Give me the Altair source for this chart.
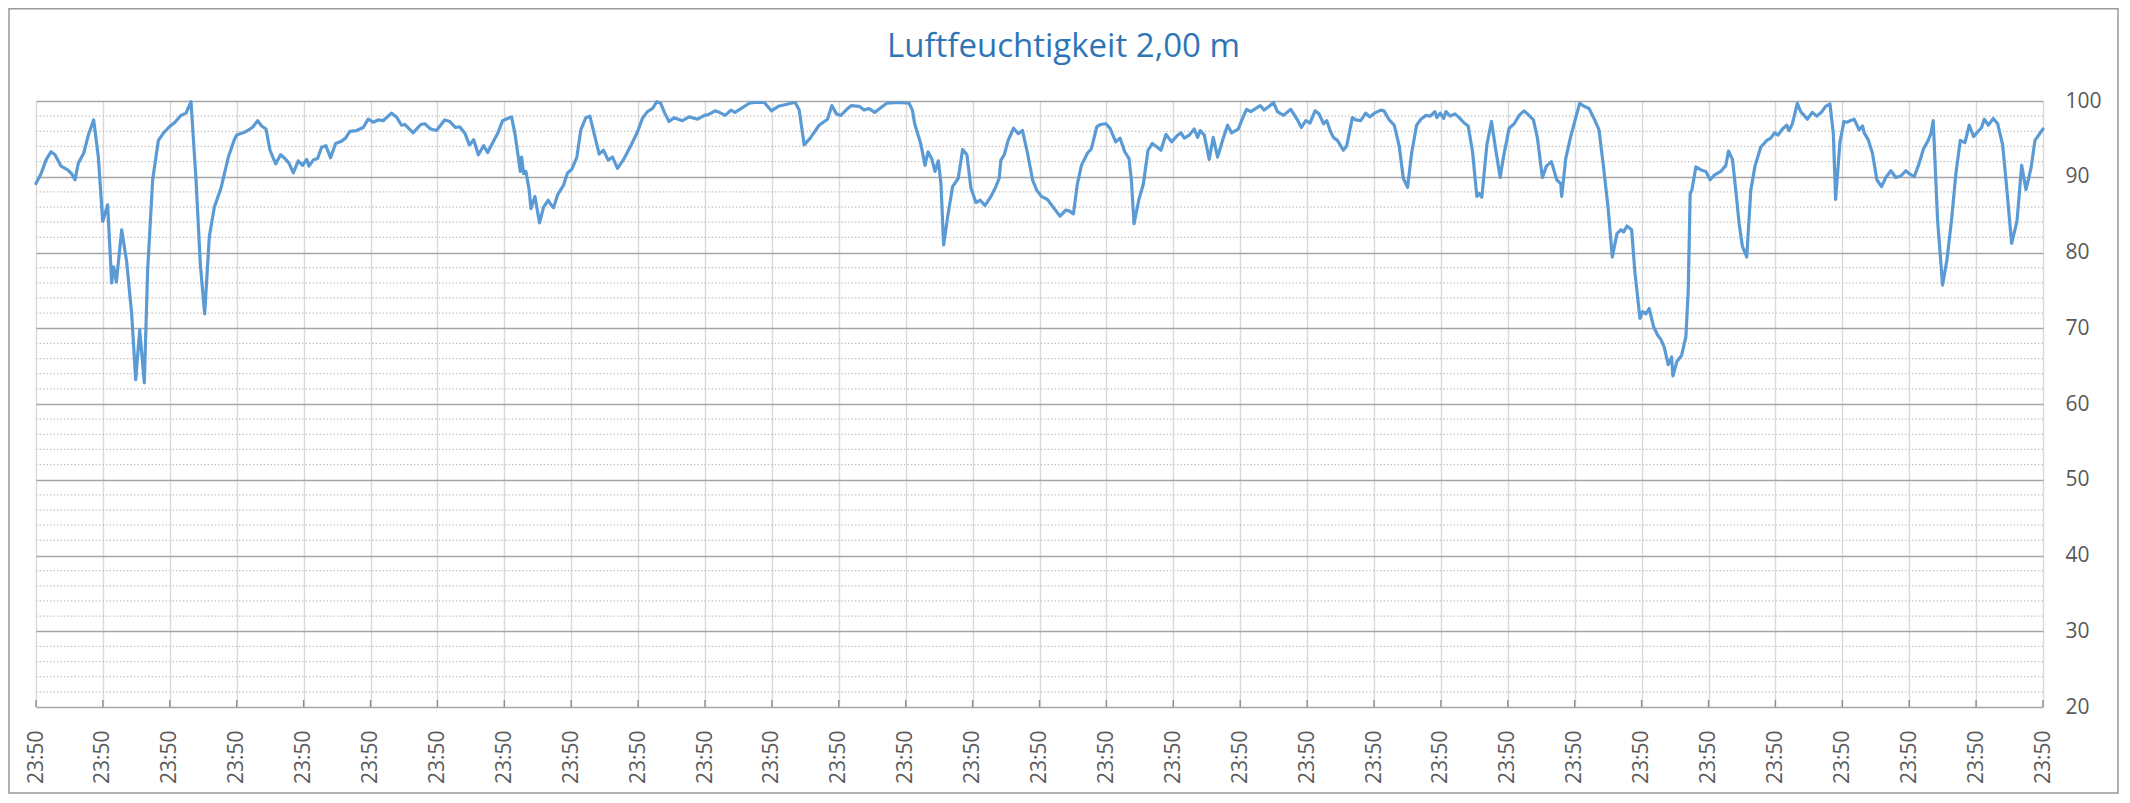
import json
import altair as alt
import pandas as pd

TITLE = "Luftfeuchtigkeit 2,00 m"

x_ticks = list(range(31))
x_tick_labels = ["23:50", "23:50", "23:50", "23:50", "23:50", "23:50", "23:50", "23:50",
                 "23:50", "23:50", "23:50", "23:50", "23:50", "23:50", "23:50", "23:50",
                 "23:50", "23:50", "23:50", "23:50", "23:50", "23:50", "23:50", "23:50",
                 "23:50", "23:50", "23:50", "23:50", "23:50", "23:50", "23:50"]
y_ticks = [20, 30, 40, 50, 60, 70, 80, 90, 100]
y_minor = [22, 24, 26, 28, 32, 34, 36, 38, 42, 44, 46, 48, 52, 54, 56, 58,
           62, 64, 66, 68, 72, 74, 76, 78, 82, 84, 86, 88, 92, 94, 96, 98]

# position along the axis (in label intervals) and humidity
day = [
    0.000, 0.075, 0.149, 0.224, 0.284, 0.374, 0.473, 0.533, 0.583, 0.633, 0.713, 0.782, 0.862, 0.932,
    0.997, 1.071, 1.131, 1.161, 1.201, 1.281, 1.355, 1.430, 1.490, 1.550, 1.619, 1.669, 1.744, 1.829,
    1.908, 1.993, 2.078, 2.167, 2.242, 2.317, 2.392, 2.456, 2.521, 2.591, 2.666, 2.765, 2.875, 2.965,
    3.000, 3.124, 3.234, 3.313, 3.373, 3.438, 3.498, 3.582, 3.657, 3.721, 3.781, 3.846, 3.920, 3.985,
    4.045, 4.080, 4.144, 4.209, 4.269, 4.333, 4.403, 4.478, 4.567, 4.627, 4.692, 4.791, 4.891, 4.965,
    5.040, 5.114, 5.189, 5.313, 5.388, 5.463, 5.512, 5.637, 5.751, 5.811, 5.900, 5.985, 6.109, 6.184,
    6.269, 6.333,
    6.413, 6.478, 6.542, 6.612, 6.692, 6.751, 6.826, 6.900, 6.975, 7.050, 7.109, 7.159, 7.209, 7.239,
    7.259, 7.289, 7.323, 7.373, 7.398, 7.458, 7.527, 7.587, 7.657, 7.697, 7.736, 7.796, 7.886, 7.945,
    8.010, 8.085, 8.144, 8.219, 8.279, 8.343, 8.418, 8.483, 8.552, 8.617, 8.692, 8.791, 8.891, 8.990,
    9.065, 9.139, 9.214, 9.279, 9.338, 9.398, 9.463, 9.537, 9.662, 9.761,
    9.891, 9.990, 10.050, 10.149, 10.214, 10.303, 10.388, 10.448, 10.537, 10.662, 10.736, 10.886,
    10.995, 11.095, 11.194, 11.284, 11.348, 11.408, 11.483, 11.572, 11.706, 11.831, 11.896, 11.965,
    12.030, 12.119, 12.189, 12.303, 12.378, 12.453, 12.537, 12.627, 12.716, 12.876, 13.050, 13.100,
    13.134, 13.224, 13.289, 13.333,
    13.388, 13.438, 13.488, 13.527, 13.567, 13.627, 13.701, 13.786, 13.851, 13.915, 13.975, 14.050,
    14.114, 14.184, 14.274, 14.348, 14.398, 14.423, 14.473, 14.532, 14.612, 14.682, 14.746, 14.821,
    14.896, 14.960, 15.030, 15.119, 15.219, 15.308, 15.393, 15.443, 15.507, 15.567, 15.627, 15.716,
    15.776, 15.856, 15.915, 15.990, 16.055, 16.139, 16.204, 16.274, 16.338, 16.373, 16.413, 16.488,
    16.552, 16.622, 16.687, 16.761,
    16.816, 16.891, 16.975, 17.055, 17.114, 17.164, 17.239, 17.313, 17.363, 17.403, 17.463, 17.537,
    17.597, 17.662, 17.736, 17.811, 17.871, 17.970, 18.035, 18.095, 18.159, 18.299, 18.358, 18.433,
    18.498, 18.557, 18.647, 18.756, 18.856, 18.915, 18.980, 19.045, 19.119, 19.179, 19.244, 19.294,
    19.353, 19.393, 19.453, 19.542, 19.592, 19.677, 19.726, 19.801, 19.876, 19.935, 20.010, 20.100,
    20.149,
    20.229, 20.303, 20.378, 20.438, 20.502, 20.562, 20.637, 20.701, 20.776, 20.841, 20.910, 20.940,
    20.990, 21.040, 21.075, 21.139, 21.209, 21.274, 21.348, 21.408, 21.473, 21.537, 21.572, 21.612,
    21.687, 21.756, 21.821, 21.886, 21.935, 22.020, 22.095, 22.169, 22.244, 22.318, 22.383, 22.443,
    22.517, 22.577, 22.652, 22.731, 22.791, 22.806, 22.866, 22.940, 23.000, 23.075, 23.139, 23.214,
    23.289, 23.363, 23.428, 23.498, 23.562,
    23.632, 23.692, 23.731, 23.781, 23.851, 23.900, 23.975, 24.015, 24.065, 24.114, 24.179, 24.239,
    24.289, 24.338, 24.398, 24.448, 24.468, 24.527, 24.597, 24.662, 24.697, 24.726, 24.751, 24.811,
    24.886, 24.960, 25.025, 25.085, 25.184, 25.259, 25.299, 25.358, 25.408, 25.458, 25.507, 25.572,
    25.632, 25.697, 25.781, 25.871, 25.930, 25.990, 26.040, 26.104, 26.169, 26.204, 26.254, 26.328,
    26.378, 26.478, 26.552, 26.617, 26.687, 26.751, 26.816, 26.866, 26.900, 26.965, 27.025,
    27.077, 27.117, 27.177, 27.252, 27.302, 27.327, 27.387, 27.451, 27.516, 27.586, 27.651, 27.726,
    27.800, 27.875, 27.950, 28.000, 28.075, 28.150, 28.214, 28.284, 28.324, 28.359, 28.424, 28.499,
    28.564, 28.633, 28.698, 28.763, 28.833, 28.898, 28.963, 29.022, 29.082, 29.122, 29.182, 29.257,
    29.322, 29.397, 29.461, 29.531, 29.611, 29.681, 29.746, 29.820, 29.880, 30.000,
]
humidity = [
    89.1, 90.4, 92.2, 93.3, 92.9, 91.4, 90.9, 90.4, 89.6, 91.8, 93.1, 95.5, 97.5, 92.6,
    84.1, 86.3, 76.0, 78.1, 76.1, 83.0, 78.8, 71.9, 63.2, 69.8, 62.8, 77.7, 89.6, 94.8,
    95.8, 96.6, 97.2, 98.1, 98.4, 99.9, 89.6, 78.5, 71.9, 82.1, 86.0, 88.5, 92.6, 94.9,
    95.5, 95.9, 96.5, 97.4, 96.7, 96.3, 93.5, 91.7, 92.9, 92.4, 91.8, 90.5, 92.1, 91.5,
    92.3, 91.4, 92.2, 92.4, 93.9, 94.1, 92.5, 94.4, 94.7, 95.1, 96.0, 96.1, 96.5, 97.6,
    97.2, 97.5, 97.4, 98.4, 97.9, 96.8, 96.9, 95.8, 96.9, 97.0, 96.3, 96.1, 97.5, 97.3,
    96.5, 96.6,
    95.7, 94.2, 94.9, 92.9, 94.1, 93.2, 94.5, 95.7, 97.4, 97.7, 97.9, 95.7, 92.6, 90.7,
    92.6, 90.4, 90.7, 88.2, 85.8, 87.4, 83.9, 86.0, 86.9, 86.3, 85.9, 87.6, 88.9, 90.5,
    91.0, 92.6, 96.2, 97.8, 98.0, 95.7, 93.0, 93.5, 92.2, 92.6, 91.1, 92.4, 94.1, 95.9,
    97.7, 98.6, 99.0, 99.9, 99.7, 98.4, 97.3, 97.8, 97.4, 97.9,
    97.6, 98.1, 98.2, 98.7, 98.5, 98.1, 98.8, 98.5, 99.0, 99.7, 99.8, 99.8,
    98.7, 99.3, 99.5, 99.7, 99.8, 98.8, 94.2, 95.1, 96.8, 97.6, 99.4, 98.3,
    98.1, 98.9, 99.4, 99.3, 98.8, 99.0, 98.5, 99.1, 99.7, 99.8, 99.7, 98.8,
    97.0, 94.4, 91.5, 93.3,
    92.4, 90.7, 92.1, 89.1, 81.0, 84.7, 88.7, 89.8, 93.6, 92.9, 88.5, 86.6,
    86.9, 86.2, 87.4, 88.7, 89.8, 92.2, 92.9, 94.8, 96.4, 95.7, 96.1, 93.1,
    89.6, 88.2, 87.4, 87.0, 85.8, 84.8, 85.6, 85.5, 85.1, 89.1, 91.5, 93.1,
    93.7, 96.6, 96.9, 97.0, 96.4, 94.6, 95.1, 93.3, 92.4, 89.6, 83.8, 87.1,
    89.0, 93.5, 94.4, 93.9,
    93.5, 95.6, 94.6, 95.4, 95.8, 95.1, 95.5, 96.3, 95.2, 96.1, 95.5, 92.3,
    95.2, 92.6, 94.8, 96.8, 95.8, 96.3, 97.7, 98.9, 98.6, 99.4, 98.8, 99.3,
    99.8, 98.6, 98.1, 98.9, 97.5, 96.5, 97.4, 97.1, 98.7, 98.3, 97.0, 97.4,
    95.9, 95.2, 94.8, 93.5, 94.1, 97.8, 97.5, 97.4, 98.4, 97.9, 98.4, 98.8,
    98.7,
    97.5, 96.8, 94.0, 89.8, 88.6, 93.1, 96.8, 97.6, 98.1, 98.0, 98.6, 97.8,
    98.4, 97.7, 98.6, 98.0, 98.3, 97.8, 97.1, 96.7, 93.3, 87.4, 87.8, 87.3,
    94.2, 97.3, 93.5, 89.9, 92.6, 96.4, 97.0, 98.1, 98.7, 98.1, 97.5, 95.1,
    89.9, 91.4, 92.0, 89.6, 89.1, 87.4, 92.4, 95.3, 97.3, 99.7, 99.3, 99.0,
    97.7, 96.2, 91.5, 86.0, 79.4,
    82.5, 83.0, 82.7, 83.5, 83.0, 77.4, 71.3, 72.2, 71.9, 72.6, 70.2, 69.1,
    68.5, 67.5, 65.2, 66.2, 63.7, 65.6, 66.4, 68.9, 75.0, 87.8, 88.2, 91.3,
    90.9, 90.7, 89.6, 90.2, 90.7, 91.5, 93.4, 92.3, 88.2, 83.8, 80.8, 79.4,
    88.2, 91.5, 93.9, 94.8, 95.1, 95.8, 95.5, 96.3, 96.8, 96.1, 97.0, 99.7,
    98.6, 97.6, 98.5, 98.0, 98.5, 99.3, 99.6, 95.7, 87.0, 94.6, 97.3,
    97.2, 97.4, 97.6, 96.2, 96.7, 95.8, 94.9, 93.1, 89.6, 88.7, 89.9, 90.8,
    89.9, 90.1, 90.8, 90.4, 90.0, 91.8, 93.7, 94.8, 95.7, 97.4, 84.3, 75.7,
    79.0, 84.3, 90.4, 94.8, 94.5, 96.8, 95.3, 95.9, 96.5, 97.6, 96.8, 97.7,
    97.0, 94.2, 88.2, 81.2, 84.1, 91.5, 88.3, 91.1, 94.8, 96.3,
]

W = 2007
H = 606
FONT = "Open Sans"
LABEL_COLOR = "#595959"

xscale = alt.Scale(domain=[0, 30], nice=False, zero=False)
yscale = alt.Scale(domain=[20, 100], nice=False, zero=False)

xaxis = alt.Axis(
    values=x_ticks,
    labelExpr=json.dumps(x_tick_labels) + "[round(datum.value)]",
    labelAngle=270,
    labelFont=FONT,
    labelFontSize=21,
    labelColor=LABEL_COLOR,
    labelPadding=23,
    labelOverlap=False,
    labelFlush=False,
    grid=True,
    gridColor="#d9d9d9",
    gridWidth=1.4,
    domain=False,
    ticks=False,
    tickSize=0,
    title=None,
)
yaxis = alt.Axis(
    orient="right",
    values=y_ticks,
    labelFont=FONT,
    labelFontSize=21,
    labelColor=LABEL_COLOR,
    labelPadding=22,
    grid=True,
    gridColor="#a6a6a6",
    gridWidth=1.4,
    domain=False,
    ticks=False,
    tickSize=0,
    title=None,
)

line_df = pd.DataFrame({"x": day, "y": humidity})
minor_df = pd.DataFrame({"y": y_minor})
tick_df = pd.DataFrame({"x": x_ticks})

minor = alt.Chart(minor_df).mark_rule(
    color="#c4c4c4", strokeWidth=1.2, strokeDash=[1.5, 2.0]
).encode(y=alt.Y("y:Q", scale=yscale, axis=yaxis))

ticks = alt.Chart(tick_df).mark_rule(color="#8c8c8c", strokeWidth=1.4).encode(
    x=alt.X("x:Q", scale=xscale, axis=xaxis),
    y=alt.value(H),
    y2=alt.value(H - 7),
)

line = alt.Chart(line_df).mark_line(
    color="#5B9BD5", strokeWidth=3.2, strokeJoin="round", strokeCap="round"
).encode(
    x=alt.X("x:Q", scale=xscale, axis=xaxis),
    y=alt.Y("y:Q", scale=yscale, axis=yaxis),
)

border = alt.Chart(alt.Data(values=[{"k": 1}])).mark_rect(
    fill="transparent", stroke="#999999", strokeWidth=1.5
).encode(
    x=alt.value(-27),
    x2=alt.value(2082),
    y=alt.value(-92.25),
    y2=alt.value(692),
)

chart = alt.layer(minor, ticks, line, border).properties(
    width=W,
    height=H,
    padding=0,
    title=alt.TitleParams(
        text=TITLE,
        font=FONT,
        fontSize=33,
        fontWeight="normal",
        color="#2E75B6",
        anchor="middle",
        frame="bounds",
        baseline="middle",
        offset=-71.75,
    ),
).configure_view(strokeWidth=0)

chart.save("out.html", embed_options={"renderer": "svg", "actions": False})
